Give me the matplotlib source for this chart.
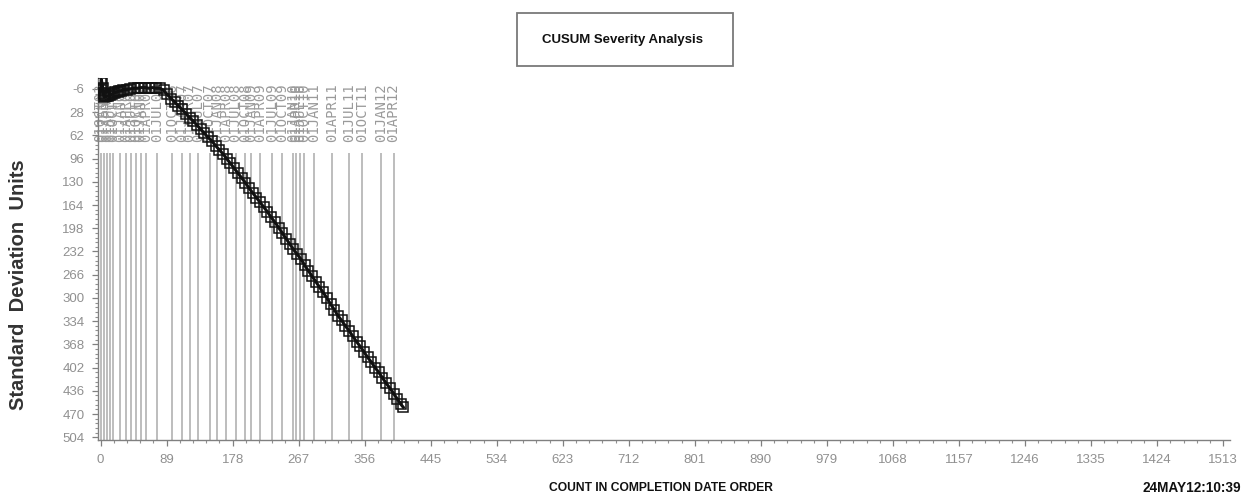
import numpy as np
import matplotlib
matplotlib.use("Agg")
import matplotlib.pyplot as plt
from matplotlib.patches import Rectangle

plt.rcParams['font.family'] = ['Liberation Sans Narrow', 'Liberation Sans', 'DejaVu Sans']

# cusum series: count in completion order vs cumulative sd units
counts = [0, 1, 2, 3, 4, 5, 6, 8,
          10, 13, 15, 18, 20, 23, 25, 28, 30, 35, 40, 45, 50, 55, 60, 65,
          70, 75, 80, 85, 90, 95, 100, 105, 110, 115, 120, 125, 130, 135,
          140, 145, 150, 155, 160, 165, 170, 175, 180, 185, 190, 195, 200,
          205, 210, 215, 220, 225, 230, 235, 240, 245, 250, 255, 260, 265,
          270, 275, 280, 285, 290, 295, 300, 305, 310, 315, 320, 325, 330,
          335, 340, 345, 350, 355, 360, 365, 370, 375, 380, 385, 390, 395,
          400, 405, 408]
cusum = [-4, -20, -14, -8, 2, 6, 5, 5,
         4, 3, 2, 0, -1, -2, -3, -3, -5, -5, -6, -7, -7, -8, -8, -7,
         -8, -7, -7, -4, 2, 8, 13, 19, 24, 30, 36, 41, 47, 53,
         59, 65, 70, 77, 83, 89, 96, 103, 110, 117, 124, 131, 139,
         146, 153, 160, 167, 174, 182, 189, 197, 205, 213, 221, 229, 236,
         243, 252, 260, 268, 276, 284, 292, 300, 309, 317, 326, 333, 341,
         348, 356, 364, 371, 379, 387, 394, 402, 409, 417, 425, 432, 440,
         448, 456, 460]

# quarter boundaries (count position and date label)
ref_counts = [0, 4, 9, 13, 17, 26, 34, 41, 48, 54, 61, 76, 96, 110, 120,
              132, 147, 157, 169, 182, 195, 203, 215, 231, 245, 259, 263,
              269, 274, 288, 312, 335, 353, 378, 395]
ref_labels = ['01OCT03', '01JAN04', '01APR04', '01JUL04', '01OCT04',
              '01JAN05', '01APR05', '01JUL05', '01OCT05', '01JAN06',
              '01APR06', '01JUL06', '01OCT06', '01JAN07', '01APR07',
              '01JUL07', '01OCT07', '01JAN08', '01APR08', '01JUL08',
              '01OCT08', '01JAN09', '01APR09', '01JUL09', '01OCT09',
              '01JAN10', '01APR10', '01JUL10', '01OCT10', '01JAN11',
              '01APR11', '01JUL11', '01OCT11', '01JAN12', '01APR12']

xticks = list(range(0, 1514, 89))
yticks = list(range(-6, 505, 34))

fig = plt.figure(figsize=(12.46, 4.97), dpi=100)
ax = fig.add_axes([0.0789, 0.1147, 0.9081, 0.7283])

ymin, ymax = -22, 508
ax.vlines(ref_counts, 88, ymax, colors='#ababab', linewidth=1.1, zorder=1)
for xc, lab in zip(ref_counts, ref_labels):
    ax.text(xc, 72, lab, rotation=90, ha='center', va='bottom',
            fontsize=10, color='#9a9a9a', family='DejaVu Sans Mono',
            fontweight='light', zorder=2)

ax.plot(counts, cusum, color='#111111', linewidth=2.2, marker='s',
        markersize=7, markerfacecolor='none', markeredgecolor='#111111',
        markeredgewidth=1.1, zorder=3)

ax.set_xlim(-3, 1522)
ax.set_ylim(ymax, ymin)

ax.set_xticks(xticks)
ax.set_xticklabels([str(v) for v in xticks])
ax.set_xticks(np.arange(0, 1514, 17.8), minor=True)
ax.set_yticks(yticks)
ax.set_yticklabels([str(v) for v in yticks])
ax.set_yticks(np.arange(-6, 505, 6.8), minor=True)

for s in ['top', 'right']:
    ax.spines[s].set_visible(False)
for s in ['left', 'bottom']:
    ax.spines[s].set_color('#808080')
    ax.spines[s].set_linewidth(1.0)

ax.tick_params(axis='both', which='major', direction='out', length=4,
               width=0.9, color='#808080', labelcolor='#909090',
               labelsize=9.5)
ax.tick_params(axis='both', which='minor', direction='out', length=2.2,
               width=0.8, color='#909090')
ax.tick_params(axis='x', which='major', pad=6)
ax.tick_params(axis='y', which='major', pad=6)

# title box
fig.patches.append(Rectangle((517 / 1246, 1 - 66 / 497), 216 / 1246,
                             53 / 497, transform=fig.transFigure,
                             fill=False, edgecolor='#7a7a7a', linewidth=1.3))
fig.text(622 / 1246, 1 - 40 / 497, 'CUSUM Severity Analysis', ha='center',
         va='center', fontsize=9.5, fontweight='bold', color='#111111')

fig.text(18.5 / 1246, 1 - 285 / 497, 'Standard  Deviation  Units',
         rotation=90, ha='center', va='center', fontsize=14.5,
         fontweight='bold', color='#333333')
fig.text(661 / 1246, 1 - 488 / 497, 'COUNT IN COMPLETION DATE ORDER',
         ha='center', va='center', fontsize=8.7, fontweight='bold',
         color='#111111')
fig.text(1241 / 1246, 1 - 488 / 497, '24MAY12:10:39', ha='right',
         va='center', fontsize=9.8, fontweight='bold', color='#111111')

fig.savefig('out.png', dpi=100)
